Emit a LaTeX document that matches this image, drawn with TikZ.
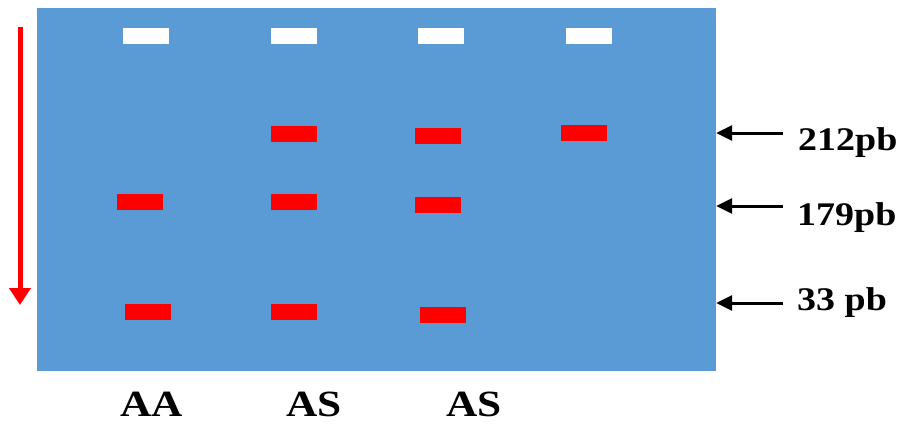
\documentclass[tikz,border=0pt]{standalone}
\usepackage{fontspec}
\setmainfont{Liberation Serif}
\usetikzlibrary{arrows.meta}
\definecolor{gelblue}{HTML}{5B9BD5}
\definecolor{bandred}{HTML}{FF0000}
\tikzset{
  band/.style={rectangle, inner sep=0pt, minimum width=46pt, minimum height=16pt},
  wband/.style={band, fill=white},
  rband/.style={band, fill=bandred},
  sizelabel/.style={anchor=base west, inner sep=0pt, font=\fontsize{33}{33}\selectfont\bfseries, xscale=1.15, transform shape},
  lanelabel/.style={anchor=base, inner sep=0pt, font=\fontsize{37}{37}\selectfont\bfseries, xscale=1.17, transform shape},
  marker/.style={line width=3pt, -{Triangle[length=16pt,width=15pt]}},
}
\begin{document}
\begin{tikzpicture}[x=1pt,y=-1pt]
\useasboundingbox (0,0) rectangle (901,423);
\node[rectangle, fill=gelblue, inner sep=0pt, minimum width=679pt, minimum height=363pt] (gel) at (376.5,189.5) {};
% wells
\node[wband] (w1) at (145.5,36) {};
\node[wband] (w2) at (294,36) {};
\node[wband] (w3) at (441,36) {};
\node[wband] (w4) at (589,36) {};
% 212 bp row
\node[rband] (a2) at (294,133.5) {};
\node[rband] (a3) at (437.5,135.5) {};
\node[rband] (a4) at (584,132.5) {};
% 179 bp row
\node[rband] (b1) at (139.5,202) {};
\node[rband] (b2) at (294,202) {};
\node[rband] (b3) at (437.5,205) {};
% 33 bp row
\node[rband] (c1) at (147.5,311.5) {};
\node[rband] (c2) at (294,311.5) {};
\node[rband] (c3) at (443,315) {};
% migration arrow
\coordinate (mtop) at (20,27);
\coordinate (mbot) at (20,305);
\draw[bandred, line width=5pt, -{Triangle[length=17pt,width=21pt]}] (mtop) -- (mbot);
% size labels
\node[sizelabel] (l212) at (798,150) {212pb};
\node[sizelabel] (l179) at (797,225) {179pb};
\node[sizelabel] (l33) at (797,310) {33 pb};
\coordinate (s212) at (783,133);
\coordinate (s179) at (783,206);
\coordinate (s33) at (783,303);
\draw[marker] (s212) -- (gel.east |- s212);
\draw[marker] (s179) -- (gel.east |- s179);
\draw[marker] (s33) -- (gel.east |- s33);
% lane labels
\node[lanelabel] (laa) at (152,416) {AA};
\node[lanelabel] (las1) at (314,416) {AS};
\node[lanelabel] (las2) at (474,416) {AS};
\end{tikzpicture}
\end{document}
